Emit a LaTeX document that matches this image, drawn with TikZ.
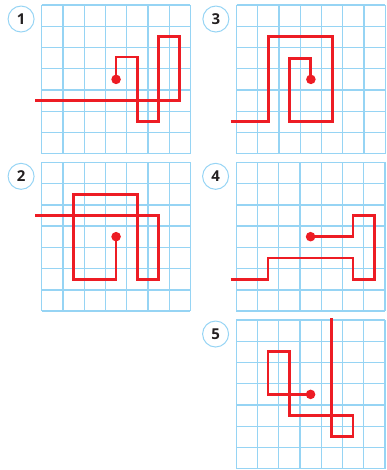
\documentclass[tikz,border=0pt]{standalone}
\usepackage{fontspec}
\setmainfont{Open Sans}
\definecolor{gridblue}{RGB}{150,212,244}
\definecolor{pathred}{RGB}{237,28,36}
\definecolor{numgray}{RGB}{35,31,32}
\tikzset{
  gridline/.style={draw=gridblue, line width=1.4pt},
  routeline/.style={draw=pathred, line width=2.8pt, line join=miter},
  enddot/.style={fill=pathred},
  numlabel/.style={circle, draw=gridblue, line width=1pt, minimum size=26pt, inner sep=0pt,
    font=\bfseries\fontsize{15}{15}\selectfont, text=numgray},
  cellgrid/.style={x=21.25pt, y=-21.25pt}
}
\newcommand{\gridpanel}[4]{%
  \begin{scope}[shift={(#1pt,-#2pt)}, cellgrid]
    \foreach \k in {0,...,7} {
      \draw[gridline] (\k,0) -- (\k,7);
      \draw[gridline] (0,\k) -- (7,\k);
    }
    \node[numlabel] (n#3) at (-0.97,0.66) {#3};
    \draw[routeline] #4;
    \fill[enddot] (3.5,3.5) circle (0.225);
  \end{scope}}
\begin{document}
\begin{tikzpicture}[x=1pt,y=1pt]
\useasboundingbox (0,0) rectangle (387,-470);
\gridpanel{41.7}{5}{1}{(3.5,3.5) -- (3.5,2.45) -- (4.5,2.45) -- (4.5,5.5) -- (5.5,5.5) -- (5.5,1.5) -- (6.5,1.5) -- (6.5,4.5) -- (-0.31,4.5)}
\gridpanel{236.5}{5}{3}{(-0.28,5.5) -- (1.5,5.5) -- (1.5,1.5) -- (4.5,1.5) -- (4.5,5.5) -- (2.5,5.5) -- (2.5,2.5) -- (3.5,2.5) -- (3.5,3.5)}
\gridpanel{41.7}{162.3}{2}{(-0.31,2.5) -- (5.5,2.5) -- (5.5,5.5) -- (4.5,5.5) -- (4.5,1.5) -- (1.5,1.5) -- (1.5,5.5) -- (3.5,5.5) -- (3.5,3.5)}
\gridpanel{236.2}{162.3}{4}{(-0.26,5.5) -- (1.5,5.5) -- (1.5,4.5) -- (5.5,4.5) -- (5.5,5.5) -- (6.5,5.5) -- (6.5,2.5) -- (5.5,2.5) -- (5.5,3.5) -- (3.5,3.5)}
\gridpanel{236.2}{320}{5}{(4.5,-0.08) -- (4.5,5.5) -- (5.5,5.5) -- (5.5,4.5) -- (2.5,4.5) -- (2.5,1.5) -- (1.5,1.5) -- (1.5,3.5) -- (3.5,3.5)}
\end{tikzpicture}
\end{document}
